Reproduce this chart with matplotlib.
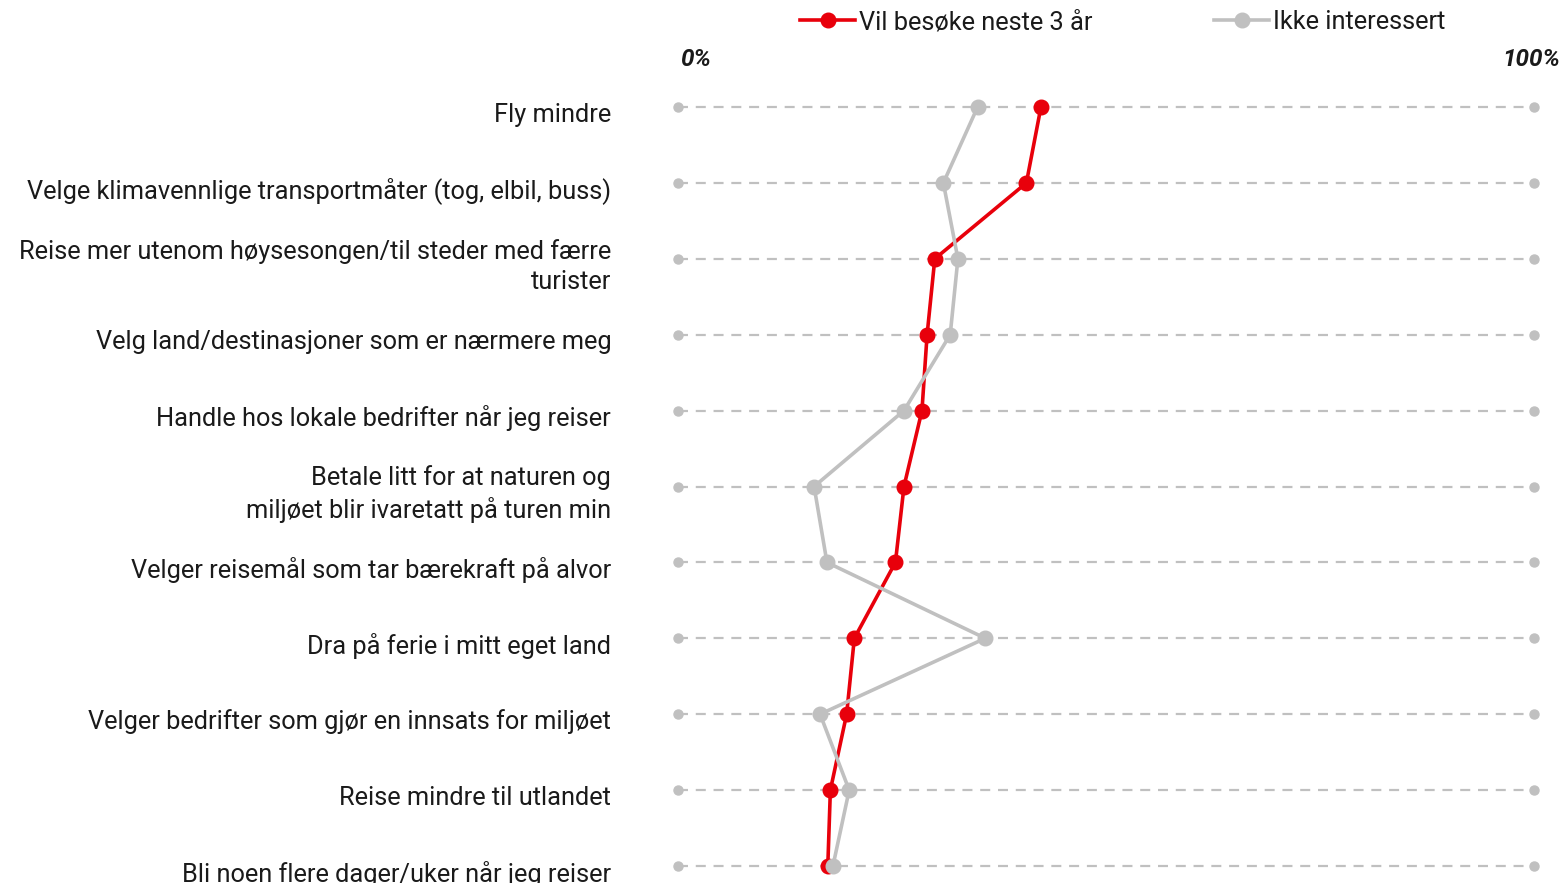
import matplotlib.pyplot as plt

# ---- data (percent) ----
labels = [
    "Fly mindre",
    "Velge klimavennlige transportmåter (tog, elbil, buss)",
    "Reise mer utenom høysesongen/til steder med færre\nturister",
    "Velg land/destinasjoner som er nærmere meg",
    "Handle hos lokale bedrifter når jeg reiser",
    "Betale litt for at naturen og\nmiljøet blir ivaretatt på turen min",
    "Velger reisemål som tar bærekraft på alvor",
    "Dra på ferie i mitt eget land",
    "Velger bedrifter som gjør en innsats for miljøet",
    "Reise mindre til utlandet",
    "Bli noen flere dager/uker når jeg reiser",
]
vil_besoke = [42.4, 40.7, 30.0, 29.1, 28.5, 26.4, 25.4, 20.6, 19.7, 17.8, 17.5]
ikke_interessert = [35.0, 31.0, 32.7, 31.8, 26.4, 15.9, 17.4, 35.9, 16.6, 20.0, 18.1]
series_names = ["Vil besøke neste 3 år", "Ikke interessert"]

RED = "#e8000b"
GREY = "#c0c0c0"
TXT = "#1a1a1a"
FS = 18.3

plt.rcParams['font.family'] = ['Roboto', 'DejaVu Sans']

fig = plt.figure(figsize=(15.65, 8.83), dpi=100)
ax = fig.add_axes([678 / 1565, 1 - 866 / 883, 856 / 1565, (866 - 107) / 883])
ax.set_xlim(0, 100)
ax.set_ylim(len(labels) - 1, 0)
ax.axis('off')

rows = list(range(len(labels)))

# dashed guide lines with end dots
for r in rows:
    ax.plot([0, 100], [r, r], color=GREY, lw=1.6, ls=(0, (4.5, 3.5)), zorder=1, clip_on=False)
    ax.plot([0, 100], [r, r], 'o', color=GREY, ms=6.5, lw=0, zorder=1, clip_on=False)

l1, = ax.plot(vil_besoke, rows, '-o', color=RED, lw=2.6, ms=10.5, zorder=3, clip_on=False)
l2, = ax.plot(ikke_interessert, rows, '-o', color=GREY, lw=2.6, ms=10.5, zorder=4, clip_on=False)

# category labels
for r, lab in zip(rows, labels):
    ax.text(-7.8, r + 0.1, lab, ha='right', va='center', fontsize=FS, color=TXT,
            linespacing=1.33)

# 0% / 100%
ax.text(0.2, -0.62, "0%", ha='left', va='center', fontsize=17.5, fontweight='bold',
        fontstyle='italic', color=TXT)
ax.text(103.0, -0.62, "100%", ha='right', va='center', fontsize=17.5, fontweight='bold',
        fontstyle='italic', color=TXT)

fig.legend([l1, l2], series_names, loc='center', bbox_to_anchor=(0.7175, 0.975), ncol=2,
           frameon=False, fontsize=FS, handlelength=2.15, handletextpad=0.15,
           columnspacing=4.8, labelcolor=TXT)

fig.savefig("out.png", dpi=100)
